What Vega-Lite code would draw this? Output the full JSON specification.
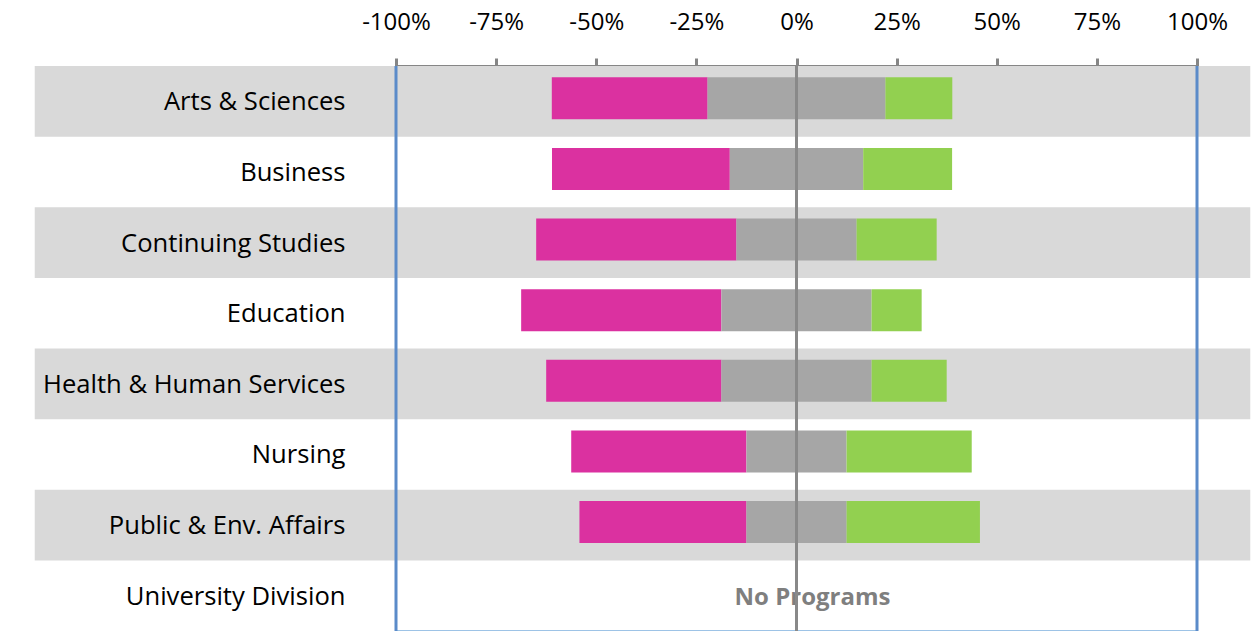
{
  "$schema": "https://vega.github.io/schema/vega-lite/v6.json",
  "width": 801,
  "height": 565,
  "autosize": {"type": "none"},
  "padding": {"left": 396, "top": 66, "right": 57, "bottom": 0},
  "background": "#ffffff",
  "view": {"stroke": "#9DC3E6", "strokeWidth": 2},
  "config": {"font": "Open Sans"},
  "datasets": {
    "colleges": [
      {"college": "Arts & Sciences"},
      {"college": "Business"},
      {"college": "Continuing Studies"},
      {"college": "Education"},
      {"college": "Health & Human Services"},
      {"college": "Nursing"},
      {"college": "Public & Env. Affairs"},
      {"college": "University Division"}
    ],
    "responses": [
      {"college": "Arts & Sciences", "response": "Negative", "pct": 38.9},
      {"college": "Arts & Sciences", "response": "Neutral", "pct": 44.4},
      {"college": "Arts & Sciences", "response": "Positive", "pct": 16.7},
      {"college": "Business", "response": "Negative", "pct": 44.4},
      {"college": "Business", "response": "Neutral", "pct": 33.3},
      {"college": "Business", "response": "Positive", "pct": 22.2},
      {"college": "Continuing Studies", "response": "Negative", "pct": 50},
      {"college": "Continuing Studies", "response": "Neutral", "pct": 30},
      {"college": "Continuing Studies", "response": "Positive", "pct": 20},
      {"college": "Education", "response": "Negative", "pct": 50},
      {"college": "Education", "response": "Neutral", "pct": 37.5},
      {"college": "Education", "response": "Positive", "pct": 12.5},
      {"college": "Health & Human Services", "response": "Negative", "pct": 43.75},
      {"college": "Health & Human Services", "response": "Neutral", "pct": 37.5},
      {"college": "Health & Human Services", "response": "Positive", "pct": 18.75},
      {"college": "Nursing", "response": "Negative", "pct": 43.75},
      {"college": "Nursing", "response": "Neutral", "pct": 25},
      {"college": "Nursing", "response": "Positive", "pct": 31.25},
      {"college": "Public & Env. Affairs", "response": "Negative", "pct": 41.7},
      {"college": "Public & Env. Affairs", "response": "Neutral", "pct": 25},
      {"college": "Public & Env. Affairs", "response": "Positive", "pct": 33.3}
    ],
    "notes": [
      {"college": "University Division", "note": "No Programs"}
    ]
  },
  "encoding": {
    "y": {
      "field": "college",
      "type": "nominal",
      "sort": null,
      "scale": {
        "domain": ["Arts & Sciences", "Business", "Continuing Studies", "Education", "Health & Human Services", "Nursing", "Public & Env. Affairs", "University Division"],
        "paddingInner": 0,
        "paddingOuter": 0
      },
      "axis": {
        "title": null,
        "domain": false,
        "ticks": false,
        "labelFontSize": 25.6,
        "labelColor": "#000000",
        "labelPadding": 51,
        "labelOffset": 1,
        "labelLimit": 400
      }
    }
  },
  "layer": [
    {
      "data": {"name": "colleges"},
      "transform": [
        {"window": [{"op": "row_number", "as": "rn"}]},
        {"filter": "datum.rn % 2 == 1"}
      ],
      "mark": {"type": "rect", "color": "#D9D9D9", "clip": false},
      "encoding": {
        "x": {"datum": -190.2, "type": "quantitative"},
        "x2": {"datum": 113.3}
      }
    },
    {
      "data": {"name": "responses"},
      "transform": [
        {"calculate": "datum.response == 'Neutral' ? datum.pct : 0", "as": "neuPart"},
        {"joinaggregate": [{"op": "sum", "field": "neuPart", "as": "neu"}], "groupby": ["college"]},
        {"calculate": "datum.response == 'Negative' ? -datum.neu / 2 - datum.pct : (datum.response == 'Neutral' ? -datum.neu / 2 : datum.neu / 2)", "as": "start"},
        {"calculate": "datum.response == 'Negative' ? -datum.neu / 2 : (datum.response == 'Neutral' ? datum.neu / 2 : datum.neu / 2 + datum.pct)", "as": "end"}
      ],
      "mark": {"type": "bar", "height": {"band": 0.595}, "yOffset": -3},
      "encoding": {
        "x": {
          "field": "start",
          "type": "quantitative",
          "scale": {"domain": [-100, 100], "nice": false, "zero": false},
          "axis": {
            "orient": "top",
            "title": null,
            "values": [-100, -75, -50, -25, 0, 25, 50, 75, 100],
            "labelExpr": "datum.value + '%'",
            "grid": false,
            "domainColor": "#868686",
            "domainWidth": 3,
            "tickColor": "#868686",
            "tickWidth": 3,
            "tickSize": 8,
            "labelFontSize": 24,
            "labelColor": "#000000",
            "labelPadding": 24,
            "labelFlush": false
          }
        },
        "x2": {"field": "end"},
        "color": {
          "field": "response",
          "type": "nominal",
          "scale": {"domain": ["Negative", "Neutral", "Positive"], "range": ["#DB31A0", "#A6A6A6", "#92D050"]},
          "legend": null
        }
      }
    },
    {
      "data": {"name": "notes"},
      "mark": {"type": "text", "fontSize": 24, "fontWeight": "bold", "color": "#7F7F7F", "align": "center", "baseline": "middle", "dy": 2},
      "encoding": {
        "x": {"datum": 4, "type": "quantitative"},
        "text": {"field": "note"}
      }
    },
    {
      "data": {"name": "notes"},
      "mark": {"type": "rule", "color": "#898989", "strokeWidth": 3},
      "encoding": {
        "x": {"datum": 0, "type": "quantitative"},
        "y": null
      }
    },
    {
      "data": {"name": "notes"},
      "mark": {"type": "rule", "color": "#5B8BC9", "strokeWidth": 3},
      "encoding": {
        "x": {"datum": -100, "type": "quantitative"},
        "y": null
      }
    },
    {
      "data": {"name": "notes"},
      "mark": {"type": "rule", "color": "#5B8BC9", "strokeWidth": 3},
      "encoding": {
        "x": {"datum": 100, "type": "quantitative"},
        "y": null
      }
    }
  ]
}
